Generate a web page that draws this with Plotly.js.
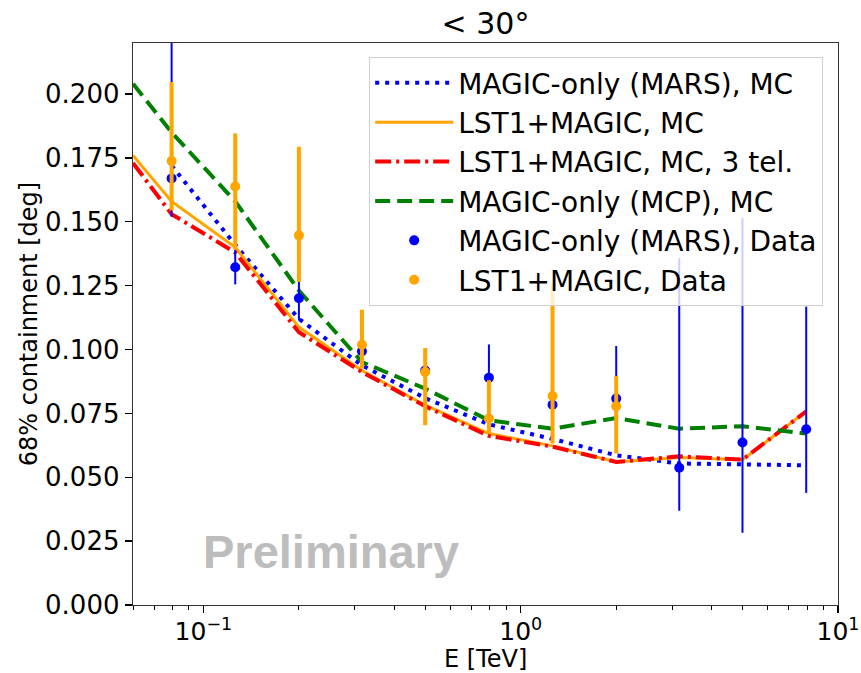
<!DOCTYPE html>
<html>
<head>
<meta charset="utf-8">
<script src="https://cdn.plot.ly/plotly-3.0.1.min.js"></script>
<style>html,body{margin:0;padding:0;background:#fff;}#chart{width:861px;height:673px;}</style>
</head>
<body>
<div id="chart"></div>
<script>
// Energy bin centres [TeV]
const energy = [0.0794, 0.126, 0.2, 0.316, 0.5, 0.794, 1.26, 2.0, 3.16, 5.0, 7.94];
// MC curves that begin at the left edge of the axis
const energyEdge = [0.06, 0.0794, 0.126, 0.2, 0.316, 0.5, 0.794, 1.26, 2.0, 3.16, 5.0, 7.94];

const marsMC   = [0.172, 0.141, 0.112, 0.0938, 0.081, 0.0707, 0.065, 0.0586, 0.0554, 0.0550, 0.0547];
const lstMC    = [0.176, 0.158, 0.140, 0.1088, 0.0918, 0.0782, 0.0671, 0.0623, 0.0560, 0.0577, 0.0569, 0.0758];
const lst3MC   = [0.173, 0.153, 0.138, 0.1068, 0.0912, 0.0778, 0.0662, 0.0620, 0.0560, 0.0582, 0.0569, 0.0758];
const mcpMC    = [0.204, 0.185, 0.158, 0.1231, 0.0951, 0.0847, 0.0723, 0.069, 0.0732, 0.069, 0.070, 0.0671];

const marsData      = [0.167, 0.1322, 0.1201, 0.0993, 0.0918, 0.089, 0.0784, 0.0808, 0.0537, 0.0636, 0.0688];
const marsErrPlus   = [0.09, 0.0068, 0.0087, 0.005, 0.008, 0.013, 0.006, 0.0206, 0.082, 0.088, 0.048];
const marsErrMinus  = [0.015, 0.0067, 0.0087, 0.005, 0.008, 0.013, 0.006, 0.0206, 0.0168, 0.0353, 0.0249];

const lstEnergy     = [0.0794, 0.126, 0.2, 0.316, 0.5, 0.794, 1.26, 2.0];
const lstData       = [0.1738, 0.1638, 0.1447, 0.1019, 0.0912, 0.073, 0.0818, 0.0778];
const lstErrPlus    = [0.0309, 0.0208, 0.0347, 0.0137, 0.0094, 0.015, 0.044, 0.0118];
const lstErrMinus   = [0.0194, 0.0248, 0.0183, 0.0093, 0.0208, 0.0058, 0.0186, 0.0185];

const names = [
  'MAGIC-only (MARS), MC',
  'LST1+MAGIC, MC',
  'LST1+MAGIC, MC, 3 tel.',
  'MAGIC-only (MCP), MC',
  'MAGIC-only (MARS), Data',
  'LST1+MAGIC, Data'
];
const xTitle = 'E [TeV]';
const yTitle = '68% containment [deg]';
const chartTitle = '&lt; 30°';

const font = "'DejaVu Sans', 'Liberation Sans', sans-serif";

const traces = [
  {x: energy, y: marsMC, name: names[0], legendgroup: 'g0', mode: 'lines',
   line: {color: '#0000ff', width: 4, dash: '4px,6px'}},
  {x: energyEdge, y: lstMC, name: names[1], legendgroup: 'g1', mode: 'lines',
   line: {color: '#ffa500', width: 3}},
  {x: energyEdge, y: lst3MC, name: names[2], legendgroup: 'g2', mode: 'lines',
   line: {color: '#ff0000', width: 4, dash: '16px,5px,3px,5px'}},
  {x: energyEdge, y: mcpMC, name: names[3], legendgroup: 'g3', mode: 'lines',
   line: {color: '#008000', width: 4, dash: '15px,7px'}},
  {x: energy, y: marsData, name: names[4], legendgroup: 'g4', mode: 'markers',
   marker: {color: '#0000ff', size: 10},
   error_y: {type: 'data', symmetric: false, array: marsErrPlus, arrayminus: marsErrMinus,
             color: '#0000ff', thickness: 2, width: 0}},
  {x: lstEnergy, y: lstData, name: names[5], legendgroup: 'g5', mode: 'markers',
   marker: {color: '#ffa500', size: 10},
   error_y: {type: 'data', symmetric: false, array: lstErrPlus, arrayminus: lstErrMinus,
             color: '#ffa500', thickness: 4, width: 0}}
];

const minorVals = [0.06,0.07,0.08,0.09,0.2,0.3,0.4,0.5,0.6,0.7,0.8,0.9,2,3,4,5,6,7,8,9];

const layout = {
  width: 861, height: 673,
  margin: {l: 133, r: 23, t: 43, b: 68},
  paper_bgcolor: '#ffffff', plot_bgcolor: '#ffffff',
  font: {family: font, size: 26, color: '#000'},
  showlegend: true,
  title: {text: chartTitle, x: 0.5, xref: 'paper', y: 0.965, yref: 'container', yanchor: 'middle',
          font: {family: font, size: 30, color: '#000'}},
  xaxis: {
    type: 'log', range: [Math.log10(0.06), 1],
    tickvals: [0.1, 1, 10], ticktext: ['10<sup>−1</sup>', '10<sup>0</sup>', '10<sup>1</sup>'],
    ticks: 'outside', ticklen: 7, tickwidth: 1.3, tickcolor: '#000',
    ticklabelstandoff: -3,
    minor: {tickvals: minorVals, ticks: 'outside', ticklen: 4, tickwidth: 1, tickcolor: '#000', showgrid: false},
    showline: true, linecolor: '#333', linewidth: 1.3, mirror: true,
    showgrid: false, zeroline: false,
    tickfont: {family: font, size: 25}
  },
  yaxis: {
    range: [0, 0.22], dtick: 0.025, tick0: 0, tickformat: '.3f',
    ticks: 'outside', ticklen: 7, tickwidth: 1.3, tickcolor: '#000',
    showline: true, linecolor: '#333', linewidth: 1.3, mirror: true,
    showgrid: false, zeroline: false,
    tickfont: {family: font, size: 26},
    title: {text: yTitle, font: {family: font, size: 24}, standoff: 0}
  },
  legend: {
    x: 0.335, y: 0.975, xanchor: 'left', yanchor: 'top',
    bgcolor: 'rgba(255,255,255,0.8)', bordercolor: '#d0d0d0', borderwidth: 1,
    font: {family: font, size: 28, color: '#000'},
    itemwidth: 78, tracegroupgap: 4, traceorder: 'normal'
  },
  annotations: [
    {
      text: '<b>Preliminary</b>', xref: 'paper', yref: 'paper',
      x: (331 - 133) / 705, y: (605 - 551) / 562, xanchor: 'center', yanchor: 'middle',
      showarrow: false, font: {family: "'Liberation Sans', Arial, sans-serif", size: 47, color: '#bdbdbd'}
    },
    {
      text: xTitle, xref: 'paper', yref: 'paper',
      x: 0.5, y: -(659 - 605) / 562, xanchor: 'center', yanchor: 'middle',
      showarrow: false, font: {family: font, size: 24, color: '#000'}
    }
  ]
};

Plotly.newPlot('chart', traces, layout, {displayModeBar: false, staticPlot: true});
</script>
</body>
</html>
